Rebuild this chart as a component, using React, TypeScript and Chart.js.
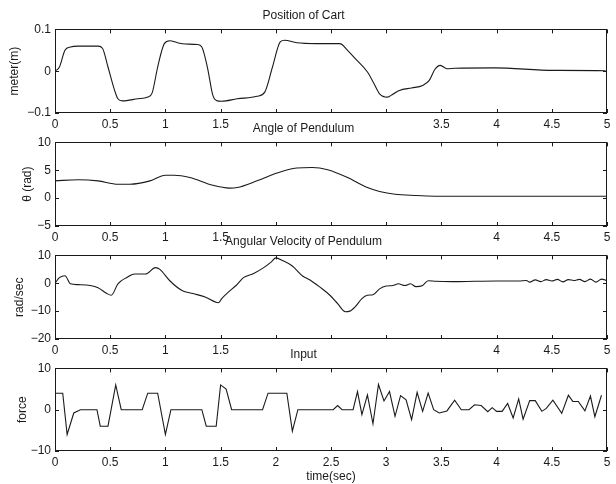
import React, { useEffect, useRef } from "react";
import { Chart, registerables } from "chart.js";

Chart.register(...registerables);

const FONT = "'Liberation Sans', Arial, Helvetica, sans-serif";
const INK = "#1a1a1a";

// ---- shared x axis ----
const xTickValues = [0, 0.5, 1, 1.5, 2, 2.5, 3, 3.5, 4, 4.5, 5];

// ---- Position of Cart ----
const cartTime = [0, 0.04, 0.09, 0.14, 0.21, 0.39, 0.43, 0.48, 0.54, 0.57, 0.61, 0.75, 0.84, 0.88, 0.93, 0.99, 1.04, 1.11, 1.18, 1.29, 1.33, 1.38, 1.43, 1.47, 1.51, 1.65, 1.83, 1.9, 1.97, 2.04, 2.08, 2.19, 2.37, 2.58, 2.65, 2.72, 2.83, 2.89, 2.94, 3.01, 3.06, 3.12, 3.23, 3.33, 3.39, 3.44, 3.49, 3.55, 3.62, 3.98, 4.52, 4.98, 5.0];
const cartPos = [0, 0.01, 0.05, 0.058, 0.06, 0.06, 0.055, 0.01, -0.046, -0.066, -0.071, -0.066, -0.062, -0.052, 0.01, 0.066, 0.073, 0.068, 0.065, 0.064, 0.058, 0.01, -0.058, -0.071, -0.072, -0.066, -0.06, -0.05, 0.01, 0.07, 0.074, 0.068, 0.066, 0.066, 0.05, 0.03, -0.002, -0.03, -0.054, -0.062, -0.055, -0.046, -0.04, -0.034, -0.022, 0.004, 0.014, 0.006, 0.007, 0.008, 0.002, 0.001, -0.003];
const cartTicks = [-0.1, 0, 0.1];

// ---- Angle of Pendulum ----
const angleTime = [0, 0.21, 0.39, 0.57, 0.68, 0.86, 1.0, 1.08, 1.22, 1.43, 1.58, 1.65, 1.83, 2.01, 2.19, 2.33, 2.47, 2.65, 2.83, 2.94, 3.08, 3.26, 3.44, 3.8, 5.0];
const angleRad = [3.1, 3.3, 3.1, 2.5, 2.5, 3.1, 4.1, 4.1, 3.7, 2.3, 1.8, 1.9, 3.1, 4.5, 5.4, 5.5, 5.1, 3.7, 1.9, 1.2, 0.7, 0.47, 0.35, 0.35, 0.35];
const angleTicks = [-5, 0, 5, 10];

// ---- Angular Velocity of Pendulum ----
const velTime = [0, 0.04, 0.09, 0.14, 0.21, 0.32, 0.39, 0.47, 0.51, 0.57, 0.65, 0.72, 0.82, 0.91, 0.95, 1.04, 1.15, 1.25, 1.36, 1.48, 1.51, 1.57, 1.64, 1.71, 1.8, 1.89, 1.96, 2.0, 2.06, 2.15, 2.24, 2.31, 2.4, 2.49, 2.56, 2.63, 2.67, 2.72, 2.78, 2.83, 2.88, 2.94, 3.0, 3.06, 3.11, 3.17, 3.22, 3.27, 3.33, 3.38, 3.45, 3.6, 3.8, 4.0, 4.2, 4.27, 4.3, 4.35, 4.4, 4.45, 4.5, 4.55, 4.6, 4.65, 4.7, 4.75, 4.8, 4.85, 4.9, 4.95, 5.0];
const velRad = [0, 2, 2.7, -0.2, -0.5, -0.8, -1.6, -3.7, -4.3, -0.2, 2.1, 3.3, 3.3, 5.6, 5.0, 0.9, -2.6, -3.7, -4.9, -7.0, -5.5, -3.2, -0.8, 2.1, 3.5, 5.6, 7.7, 9.1, 8.2, 6.2, 2.7, 1.2, -1.4, -4.3, -7.3, -10.2, -10.0, -8.4, -5.5, -4.3, -4.1, -2.0, -1.0, -0.8, -0.2, -0.8, -0.2, -1.2, -0.8, 0.9, 0.7, 0.6, 0.7, 0.8, 0.8, 1.0, 0.4, 1.2, 0.6, 1.3, 0.8, 1.4, 0.5, 1.3, 1.0, 1.4, 0.6, 1.5, 0.4, 1.5, 0.9];
const velTicks = [-20, -10, 0, 10];

// ---- Input ----
const inputTime = [0, 0.07, 0.11, 0.17, 0.23, 0.38, 0.41, 0.48, 0.55, 0.6, 0.79, 0.84, 0.93, 1.0, 1.05, 1.33, 1.37, 1.46, 1.5, 1.55, 1.6, 1.88, 1.93, 2.1, 2.15, 2.2, 2.52, 2.56, 2.6, 2.7, 2.74, 2.78, 2.83, 2.88, 2.93, 2.98, 3.03, 3.08, 3.13, 3.18, 3.23, 3.28, 3.33, 3.38, 3.43, 3.48, 3.55, 3.62, 3.68, 3.75, 3.8, 3.86, 3.92, 3.96, 4.0, 4.05, 4.1, 4.15, 4.2, 4.24, 4.3, 4.35, 4.41, 4.45, 4.51, 4.59, 4.65, 4.69, 4.74, 4.8, 4.85, 4.89, 4.95];
const inputForce = [4, 4, -6, -0.8, 0, 0, -4, -4, 6, 0, 0, 4, 4, -6, 0, 0, -4, -4, 6, 5, 0, 0, 4, 4, -5.2, 0, 0, 1, 0, 0, 4.4, -1.2, 3.6, -3.4, 6.1, 2.1, 4.4, -1.6, 3.4, 2.4, -2.4, 4.2, -0.4, 4.0, 0, -0.8, -0.3, 2.3, 0, 0, 1.2, 1.0, -0.5, 0.5, -0.4, -0.4, 1.5, -2.0, 2.6, -2.3, 2.2, 2.2, -0.4, 0.3, 2.3, -0.9, 3.5, 2.0, 2.0, -0.3, 3.3, -1.7, 3.5];
const inputTicks = [-10, 0, 10];

const titles = ["Position of Cart", "Angle of Pendulum", "Angular Velocity of Pendulum", "Input"];
const yLabels = ["meter(m)", "\u03b8 (rad)", "rad/sec", "force"];
const hiddenXLabels = [[2, 2.5, 3], [2, 2.5, 3, 3.5], [2, 2.5, 3, 3.5], []];

type Panel = {
  title: string; yLabel: string; xs: number[]; ys: number[]; yTicks: number[];
  hidden: number[]; smooth: boolean; xTitle?: string;
  top: number; height: number; xAxisH: number; yTitlePad: number;
};

const panels: Panel[] = [
  { title: titles[0], yLabel: yLabels[0], xs: cartTime, ys: cartPos, yTicks: cartTicks, hidden: hiddenXLabels[0], smooth: true, top: 0, height: 135, xAxisH: 22, yTitlePad: 8 },
  { title: titles[1], yLabel: yLabels[1], xs: angleTime, ys: angleRad, yTicks: angleTicks, hidden: hiddenXLabels[1], smooth: true, top: 113, height: 135, xAxisH: 22, yTitlePad: 21 },
  { title: titles[2], yLabel: yLabels[2], xs: velTime, ys: velRad, yTicks: velTicks, hidden: hiddenXLabels[2], smooth: true, top: 226, height: 135, xAxisH: 22, yTitlePad: 13 },
  { title: titles[3], yLabel: yLabels[3], xs: inputTime, ys: inputForce, yTicks: inputTicks, hidden: hiddenXLabels[3], smooth: false, xTitle: "time(sec)", top: 339, height: 145, xAxisH: 33, yTitlePad: 16 },
];

const fmt = (v: number) => (v < 0 ? "\u2212" + String(-v) : String(v));

const boxPlugin = {
  id: "matlabBox",
  afterDatasetsDraw(chart: any) {
    const { ctx, chartArea, scales } = chart;
    const { left, right, top, bottom } = chartArea;
    const tl = 4;
    ctx.save();
    ctx.strokeStyle = INK;
    ctx.lineWidth = 1;
    ctx.strokeRect(Math.round(left) + 0.5, Math.round(top) + 0.5, Math.round(right - left) - 1, Math.round(bottom - top) - 1);
    ctx.beginPath();
    for (const t of scales.x.ticks) {
      const px = Math.round(scales.x.getPixelForValue(t.value)) + 0.5;
      ctx.moveTo(px, bottom); ctx.lineTo(px, bottom - tl);
      ctx.moveTo(px, top); ctx.lineTo(px, top + tl);
    }
    for (const t of scales.y.ticks) {
      const py = Math.round(scales.y.getPixelForValue(t.value)) + 0.5;
      ctx.moveTo(left, py); ctx.lineTo(left + tl, py);
      ctx.moveTo(right, py); ctx.lineTo(right - tl, py);
    }
    ctx.stroke();
    ctx.restore();
  },
};

function PanelChart({ p }: { p: Panel }) {
  const ref = useRef<HTMLCanvasElement | null>(null);
  useEffect(() => {
    if (!ref.current) return;
    const font = { family: FONT, size: 12, weight: "normal" as const };
    const chart = new Chart(ref.current, {
      type: "line",
      data: {
        datasets: [{
          data: p.xs.map((x, i) => ({ x, y: p.ys[i] })),
          borderColor: INK,
          borderWidth: 1.1,
          pointRadius: 0,
          fill: false,
          cubicInterpolationMode: p.smooth ? "monotone" : "default",
          tension: 0,
        }],
      },
      options: {
        animation: false,
        responsive: false,
        devicePixelRatio: 1,
        events: [],
        layout: { padding: { left: 0, right: 9, top: 0, bottom: 0 }, autoPadding: false },
        plugins: {
          legend: { display: false },
          tooltip: { enabled: false },
          title: { display: true, text: p.title, color: INK, font, padding: { top: 8, bottom: 7 } },
        },
        scales: {
          x: {
            type: "linear", min: 0, max: 5,
            afterBuildTicks: (s: any) => { s.ticks = xTickValues.map((v) => ({ value: v })); },
            afterFit: (s: any) => { s.height = p.xAxisH; },
            ticks: {
              autoSkip: false, maxRotation: 0, padding: 4, color: INK, font,
              callback: (v: any) => (p.hidden.includes(Number(v)) ? "" : String(v)),
            },
            grid: { display: false, drawTicks: false, tickLength: 0 },
            border: { display: false },
            title: { display: !!p.xTitle, text: p.xTitle || "", color: INK, font, padding: { top: 0, bottom: 0 } },
          },
          y: {
            type: "linear", min: p.yTicks[0], max: p.yTicks[p.yTicks.length - 1],
            afterBuildTicks: (s: any) => { s.ticks = p.yTicks.map((v) => ({ value: v })); },
            afterFit: (s: any) => { s.width = 55; },
            ticks: { padding: 4, color: INK, font, callback: (v: any) => fmt(Number(v)) },
            grid: { display: false, drawTicks: false, tickLength: 0 },
            border: { display: false },
            title: { display: true, text: p.yLabel, color: INK, font, padding: { top: p.yTitlePad - 0.6, bottom: 0 } },
          },
        },
      },
      plugins: [boxPlugin],
    } as any);
    return () => chart.destroy();
  }, [p]);
  return (
    <canvas
      ref={ref}
      width={616}
      height={p.height}
      style={{ position: "absolute", left: 0, top: p.top, width: 616, height: p.height }}
    />
  );
}

export default function App() {
  return (
    <div style={{ position: "fixed", left: 0, top: 0, width: 616, height: 484, background: "#fff", overflow: "hidden" }}>
      {panels.map((p, i) => (
        <PanelChart key={i} p={p} />
      ))}
    </div>
  );
}
